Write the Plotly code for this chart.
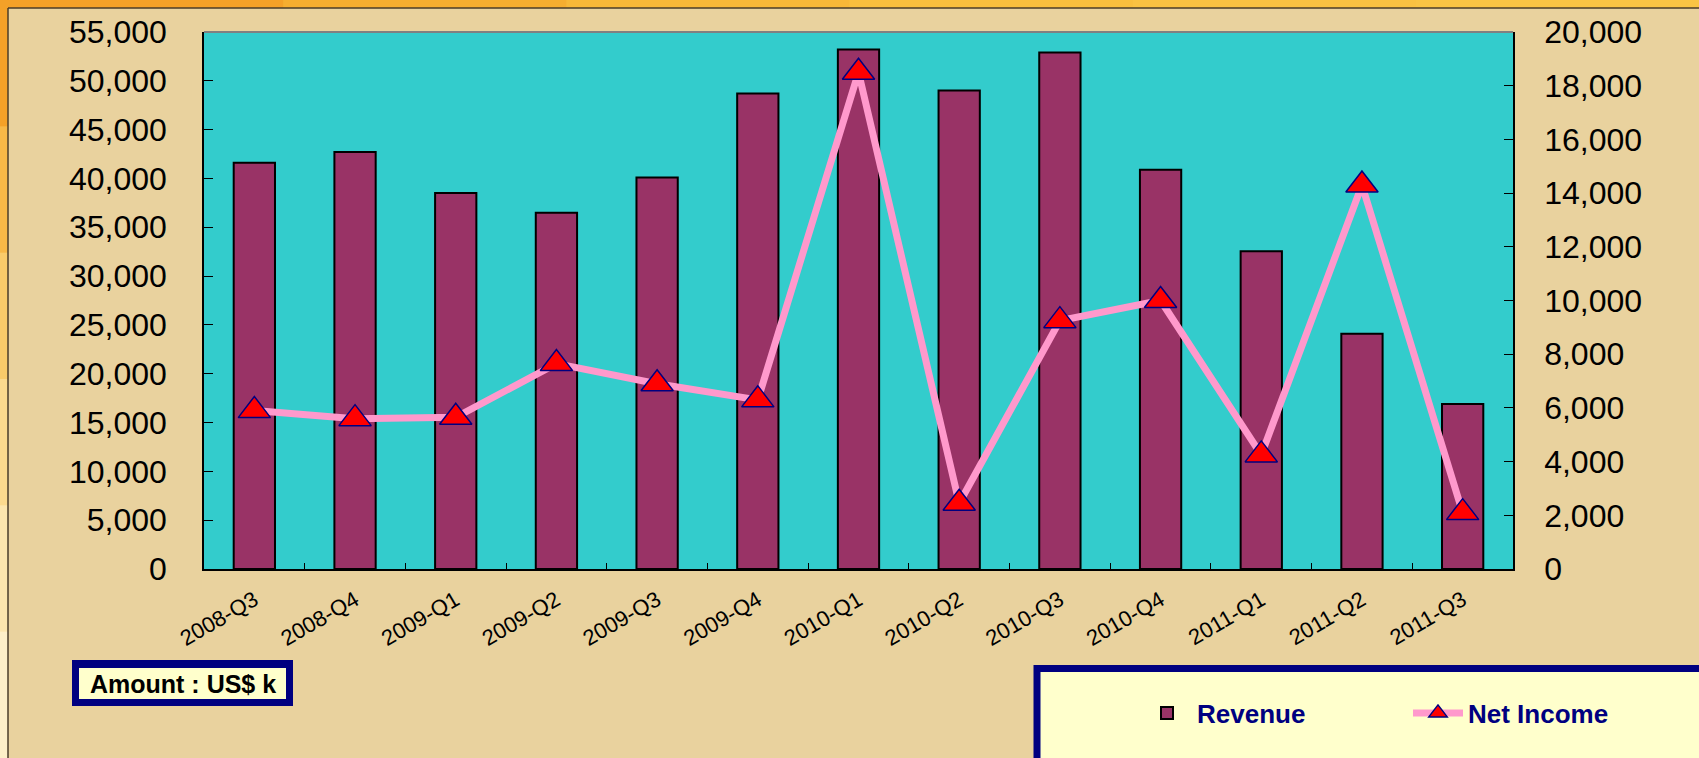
import plotly.graph_objects as go

# quarterly figures (US$ k)
quarters = ["2008-Q3", "2008-Q4", "2009-Q1", "2009-Q2", "2009-Q3", "2009-Q4", "2010-Q1",
            "2010-Q2", "2010-Q3", "2010-Q4", "2011-Q1", "2011-Q2", "2011-Q3"]
revenue = [41600, 42700, 38500, 36500, 40100, 48700, 53200,
           49000, 52900, 40900, 32550, 24100, 16900]
net_income = [5900, 5600, 5650, 7650, 6900, 6300, 18500,
              2450, 9250, 10000, 4250, 14300, 2100]

W_FIG, H_FIG = 1699, 758
L, R, T, B = 204, 1513, 32, 569          # plot area in pixels
PW, PH = R - L, B - T


def px(x):
    return (x - L) / PW


def py(y):
    return (B - y) / PH


def rect(x0, y0, x1, y1, fill, line_color=None, line_width=0):
    return dict(type="rect", xref="paper", yref="paper",
                x0=px(x0), x1=px(x1), y0=py(y1), y1=py(y0),
                fillcolor=fill, line=dict(color=line_color or fill, width=line_width),
                layer="above")


fig = go.Figure()
fig.add_trace(go.Bar(x=quarters, y=revenue, name="Revenue",
                     marker=dict(color="#993366", line=dict(color="black", width=2))))
fig.add_trace(go.Scatter(x=quarters, y=net_income, name="Net Income", yaxis="y2",
                         mode="lines+markers",
                         line=dict(color="#FF99CC", width=7),
                         marker=dict(symbol="triangle-up", size=28, color="#FF0000",
                                     line=dict(color="#000080", width=1.5))))

shapes = []
# orange frame, top and left, fading to pale yellow down the left side
top_cols = ["#F4A128", "#F6AE30", "#F8B838", "#F9BF3E", "#FAC242", "#FAC444"]
seg = W_FIG / len(top_cols)
for i, c in enumerate(top_cols):
    shapes.append(rect(i * seg, 0, (i + 1) * seg + 1, 8, c))
left_cols = ["#F4A128", "#F7B847", "#F9CB6A", "#FBDA8E", "#FCE6AE", "#FDEFC8"]
seg = H_FIG / len(left_cols)
for i, c in enumerate(left_cols):
    shapes.append(rect(0, i * seg, 8, (i + 1) * seg + 1, c))
shapes.append(dict(type="line", xref="paper", yref="paper", x0=px(8), x1=px(W_FIG),
                   y0=py(8), y1=py(8), line=dict(color="#4A3C28", width=1.5)))
shapes.append(dict(type="line", xref="paper", yref="paper", x0=px(8), x1=px(8),
                   y0=py(8), y1=py(H_FIG), line=dict(color="#4A3C28", width=1.5)))
# grey top border of the plot area
shapes.append(dict(type="line", xref="paper", yref="paper", x0=0, x1=1, y0=1, y1=1,
                   line=dict(color="#808080", width=2)))
# "Amount" box
shapes.append(rect(72, 660, 293, 706, "#000080"))
shapes.append(rect(79, 668, 286, 699, "#FFFFCC"))
# legend box
shapes.append(dict(type="rect", xref="paper", yref="paper", layer="below",
                   x0=px(1037), x1=px(1730), y0=py(769), y1=py(668.5),
                   fillcolor="#FFFFCC", line=dict(color="#000080", width=7)))

fig.update_layout(
    width=W_FIG, height=H_FIG,
    margin=dict(l=L, r=W_FIG - R, t=T, b=H_FIG - B),
    paper_bgcolor="#E9D29E", plot_bgcolor="#33CCCC",
    font=dict(family="Liberation Sans, Arial, sans-serif", color="black"),
    bargap=0.59, showlegend=True,
    xaxis=dict(type="category", range=[-0.5, len(quarters) - 0.5], showgrid=False,
               showline=True, linecolor="black", linewidth=1.5, ticks="inside",
               tickson="boundaries", ticklen=6, tickcolor="black", tickangle=-30,
               tickfont=dict(size=22), ticklabelstandoff=8),
    yaxis=dict(range=[0, 55000], dtick=5000, tickformat=",", showgrid=False,
               zeroline=False, showline=True, linecolor="black", linewidth=1.5,
               ticks="inside", ticklen=9, tickcolor="black", tickfont=dict(size=32),
               ticklabelstandoff=29),
    yaxis2=dict(range=[0, 20000], dtick=2000, tickformat=",", overlaying="y",
                side="right", showgrid=False, zeroline=False, showline=True,
                linecolor="black", linewidth=1.5, ticks="inside", ticklen=9,
                tickcolor="black", tickfont=dict(size=32), ticklabelstandoff=23),
    legend=dict(orientation="h", x=px(1137), xanchor="left", y=py(713), yanchor="middle",
                bgcolor="rgba(0,0,0,0)", itemwidth=50, entrywidth=206,
                entrywidthmode="pixels",
                font=dict(family="Liberation Sans, Arial", size=26, color="#000080",
                          weight="bold")),
    shapes=shapes,
    annotations=[dict(xref="paper", yref="paper", x=px(182.5), y=py(684),
                      xanchor="center", yanchor="middle",
                      text="<b>Amount : US$ k</b>", showarrow=False,
                      font=dict(size=25, color="black"))],
)

# drop the browser's default body margin so the figure fills the window
fig.write_html("out.html", config={"displayModeBar": False},
               post_script="document.body.style.margin='0';"
                           "document.body.style.overflow='hidden';")
